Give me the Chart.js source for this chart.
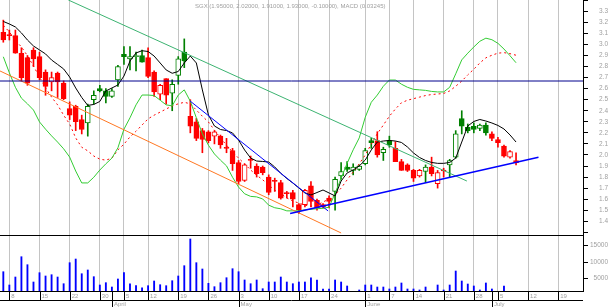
<!DOCTYPE html>
<html>
<head>
<meta charset="utf-8">
<script src="https://cdn.jsdelivr.net/npm/chart.js@4.4.1/dist/chart.umd.min.js"></script>
<style>
  html, body { margin: 0; padding: 0; background: #fff; }
</style>
</head>
<body>
<canvas id="chart" width="610" height="307"></canvas>
<script>
/* SGX daily candles, volume and MACD overlay (Mar - Jul) */
const symbol = 'SGX';

// one entry per trading session, index 0 = first session shown
const open = [3.11,3.09,3.08,2.92,2.88,2.95,2.89,2.75,2.66,2.74,
  2.65,2.42,2.44,2.32,2.29,2.50,2.60,2.58,2.53,2.68,
  2.91,2.87,2.89,2.90,2.88,2.75,2.55,2.69,2.56,2.72,
  2.93,2.35,2.30,2.22,2.21,2.17,2.17,2.07,2.04,1.93,
  1.77,1.96,1.90,1.89,1.80,1.77,1.75,1.66,1.66,1.55,
  1.55,1.72,1.59,1.55,1.61,1.67,1.81,1.89,1.86,1.87,
  1.92,2.13,2.13,2.02,2.13,2.06,1.94,1.91,1.86,1.81,
  1.85,1.89,1.74,1.86,1.91,1.98,2.33,2.25,2.26,2.24,
  2.27,2.19,2.14,2.08,1.98,1.95];
const high = [3.22,3.13,3.13,2.97,2.90,2.97,2.93,2.77,2.75,2.75,
  2.67,2.48,2.45,2.36,2.46,2.58,2.63,2.60,2.60,2.81,
  2.98,2.98,2.93,2.95,2.97,2.76,2.64,2.69,2.68,2.89,
  3.05,2.50,2.33,2.24,2.22,2.22,2.18,2.15,2.06,1.95,
  1.92,1.99,1.92,1.90,1.82,1.79,1.77,1.67,1.68,1.56,
  1.69,1.76,1.60,1.56,1.63,1.80,1.93,1.94,1.92,1.91,
  2.06,2.15,2.21,2.07,2.17,2.12,1.96,1.92,1.87,1.87,
  1.91,1.98,1.86,1.88,1.96,2.22,2.40,2.28,2.29,2.28,
  2.29,2.21,2.16,2.09,2.04,2.02];
const low = [3.02,3.04,2.92,2.67,2.63,2.80,2.68,2.54,2.58,2.52,
  2.50,2.32,2.22,2.19,2.17,2.46,2.57,2.47,2.52,2.62,
  2.82,2.77,2.76,2.84,2.70,2.53,2.50,2.46,2.40,2.64,
  2.79,2.20,2.13,2.02,2.11,2.10,2.06,2.02,1.86,1.74,
  1.76,1.88,1.80,1.82,1.64,1.67,1.60,1.61,1.53,1.47,
  1.53,1.53,1.50,1.52,1.52,1.50,1.78,1.85,1.82,1.86,
  1.91,2.06,1.98,1.95,2.07,1.94,1.86,1.85,1.76,1.80,
  1.75,1.81,1.70,1.80,1.80,1.97,2.19,2.20,2.20,2.22,
  2.18,2.13,2.07,1.98,1.97,1.91];
const close = [3.04,3.08,2.92,2.70,2.65,2.87,2.70,2.62,2.70,2.66,
  2.51,2.36,2.30,2.23,2.44,2.54,2.58,2.53,2.58,2.80,
  2.89,2.89,2.90,2.84,2.71,2.57,2.63,2.54,2.64,2.87,
  2.85,2.26,2.15,2.14,2.13,2.21,2.09,2.06,1.92,1.76,
  1.91,1.95,1.83,1.84,1.66,1.76,1.61,1.65,1.60,1.50,
  1.68,1.58,1.52,1.53,1.58,1.78,1.85,1.87,1.89,1.90,
  2.04,2.11,2.00,2.05,2.09,1.94,1.86,1.86,1.79,1.86,
  1.89,1.83,1.84,1.855,1.95,2.19,2.26,2.22,2.23,2.27,
  2.20,2.15,2.11,1.99,2.03,1.93];
// sessions drawn in green by the source
const risingDays = [14,15,16,17,18,19,20,21,22,23,28,29,30,
  55,56,57,58,59,60,61,63,64,70,74,75,76,77,78,79,80];

const volume = [7060,3030,5450,11600,9180,3940,6760,5760,6150,5450,
  3420,9790,10900,6450,7580,5550,3030,3730,2420,4850,
  6760,3420,2820,2210,2820,4240,3120,2820,4330,5760,
  8880,16970,9790,7880,3550,2520,3730,5240,7970,7060,
  4550,3420,4550,1910,3940,3940,5450,3940,3420,3940,
  3940,5240,4550,1820,1820,4550,3940,2730,900,1520,
  3030,3030,2420,2420,1820,2420,3640,1820,1820,1520,
  2420,900,3030,1520,3030,7270,4240,3330,2730,1520,
  3640,1820,900,2730,900,900];

const maLine = [3.208,3.185,3.158,3.104,3.040,2.986,2.950,2.914,2.859,2.819,
  2.778,2.705,2.606,2.520,2.448,2.457,2.484,2.579,2.606,2.633,
  2.714,2.850,2.923,2.943,2.936,2.895,2.832,2.769,2.739,2.755,
  2.832,2.895,2.832,2.588,2.362,2.262,2.230,2.221,2.199,2.135,
  2.045,1.972,1.945,1.941,1.936,1.891,1.834,1.787,1.746,1.701,
  1.656,1.638,1.660,1.683,1.656,1.629,1.764,1.837,1.864,1.900,
  1.954,2.045,2.117,2.126,2.131,2.126,2.113,2.072,2.018,1.977,
  1.950,1.932,1.924,1.924,1.932,1.972,2.117,2.262,2.303,2.321,
  2.307,2.289,2.267,2.235,2.181,2.117];

const macd = [0.044,0.013,-0.015,-0.036,-0.047,-0.059,-0.082,-0.096,-0.109,-0.121,
  -0.134,-0.150,-0.177,-0.200,-0.200,-0.189,-0.175,-0.163,-0.152,-0.132,
  -0.096,-0.074,-0.049,-0.030,-0.030,-0.031,-0.040,-0.049,-0.051,-0.030,
  -0.020,-0.042,-0.074,-0.105,-0.127,-0.144,-0.156,-0.167,-0.189,-0.208,
  -0.221,-0.226,-0.227,-0.231,-0.243,-0.248,-0.250,-0.254,-0.254,-0.254,
  -0.252,-0.251,-0.250,-0.249,-0.247,-0.220,-0.191,-0.162,-0.136,-0.113,
  -0.073,-0.044,-0.030,-0.013,-0.001,-0.001,-0.009,-0.015,-0.019,-0.020,
  -0.021,-0.023,-0.024,-0.024,-0.015,0.011,0.038,0.051,0.063,0.074,
  0.080,0.077,0.070,0.059,0.046,0.03245];
const signal = [0.105,0.092,0.076,0.063,0.046,0.026,0.005,-0.016,-0.034,-0.049,
  -0.069,-0.086,-0.113,-0.131,-0.138,-0.148,-0.154,-0.156,-0.152,-0.136,
  -0.125,-0.111,-0.100,-0.088,-0.076,-0.069,-0.063,-0.057,-0.051,-0.047,
  -0.044,-0.047,-0.059,-0.071,-0.082,-0.098,-0.113,-0.127,-0.140,-0.152,
  -0.163,-0.175,-0.185,-0.194,-0.204,-0.214,-0.221,-0.229,-0.235,-0.239,
  -0.243,-0.245,-0.243,-0.237,-0.231,-0.223,-0.210,-0.194,-0.179,-0.163,
  -0.146,-0.125,-0.105,-0.088,-0.071,-0.057,-0.045,-0.040,-0.037,-0.034,
  -0.031,-0.029,-0.028,-0.027,-0.022,-0.013,-0.003,0.009,0.020,0.032,
  0.042,0.047,0.051,0.052,0.050,0.047];

// drawn trend lines: [session index, price] end points
const channelTop = [[10.78, 3.402], [76.85, 1.764]];
const channelBottom = [[-0.55, 2.760], [56.0, 1.294]];
const shortTrend = [[30.96, 2.488], [53.85, 1.493]];
const supportTrend = [[47.55, 1.470], [88.72, 1.979]];
const resistance = 2.669;

// axes
const weekTicks = [1,6,11,16,20,24,29,34,39,44,49,54,60,64,68,73,78,82,87,92];
const weekLabels = ['8','15','22','30','5','12','19','26','3','10','17','24','1','7','14','21','28','5','12','19'];
const monthTicks = [18,39,60,81];
const monthLabels = ['April','May','June','July'];
const priceTicks = [1.3,1.4,1.5,1.6,1.7,1.8,1.9,2.0,2.1,2.2,2.3,2.4,2.5,2.6,2.7,2.8,2.9,3.0,3.1,3.2,3.3,3.4];
const volumeTicks = [5000,10000,15000];

const RED = '#ff0000', GREEN = '#008000', TEXT = '#a0a0a0';
const FONT = '"Liberation Sans", Arial, sans-serif';
const pricePanelFloor = 1.275;   // price level where the volume panel starts
const xMin = -0.55, xMax = 96.1;

Chart.defaults.font.family = FONT;

const idx = close.map((_, i) => i);
const colorOf = i => risingDays.includes(i) ? GREEN : RED;
const pts = arr => arr.map((v, i) => ({ x: i, y: v }));
const seg = s => s.map(([x, y]) => ({ x, y }));
const line = (data, color, extra = {}) => ({
    type: 'line', data, borderColor: color, borderWidth: 1,
    pointRadius: 0, fill: false, tension: 0, ...extra
});

const last = close.length - 1;
const title = `${symbol} (${[open, high, low, close].map(a => a[last].toFixed(5)).join(', ')}, ` +
    `${(close[last] - close[last - 1]).toFixed(5)}), MACD (${macd[last].toFixed(5)})`;

const panelFrame = {
    id: 'panelFrame',
    afterDraw(chart) {
        const { ctx, chartArea: a, scales: { x, y, vol } } = chart;
        const crisp = v => Math.round(v) + 0.5;
        const dateRow = a.bottom + 9;
        ctx.save();
        ctx.strokeStyle = '#000';
        ctx.lineWidth = 1;
        ctx.beginPath();
        [y.getPixelForValue(pricePanelFloor), a.bottom, dateRow].forEach(py => {
            ctx.moveTo(a.left, crisp(py)); ctx.lineTo(a.right, crisp(py));
        });
        weekTicks.forEach(t => {
            const px = crisp(x.getPixelForValue(t));
            ctx.moveTo(px, a.bottom); ctx.lineTo(px, dateRow);
        });
        monthTicks.forEach(t => {
            const px = crisp(x.getPixelForValue(t));
            ctx.moveTo(px, a.bottom); ctx.lineTo(px, chart.height);
        });
        volumeTicks.forEach(v => {
            const py = crisp(vol.getPixelForValue(v));
            ctx.moveTo(a.right, py); ctx.lineTo(a.right + 5, py);
        });
        ctx.stroke();

        ctx.fillStyle = TEXT;
        ctx.font = '6px ' + FONT;
        ctx.textAlign = 'left';
        ctx.textBaseline = 'alphabetic';
        weekTicks.forEach((t, i) => ctx.fillText(weekLabels[i], x.getPixelForValue(t) + 2, a.bottom + 7));
        monthTicks.forEach((t, i) => ctx.fillText(monthLabels[i], x.getPixelForValue(t) + 2, a.bottom + 15));
        ctx.fillText(title, 195, 7.5, 193);

        ctx.textAlign = 'right';
        ctx.textBaseline = 'middle';
        ctx.font = '6.5px ' + FONT;
        volumeTicks.forEach(v => ctx.fillText(String(v), chart.width - 2, vol.getPixelForValue(v)));
        ctx.restore();
    }
};

new Chart(document.getElementById('chart'), {
    type: 'bar',
    data: {
        datasets: [
            line(seg([[xMin, resistance], [xMax, resistance]]), '#00008c'),
            line(seg(supportTrend), '#0000ff', { borderWidth: 1.5 }),
            line(seg(shortTrend), '#0000ff'),
            line(seg(channelTop), '#3cb371'),
            line(seg(channelBottom), '#ff7722'),
            line(pts(maLine), '#000000'),
            line(pts(macd), '#33cc33', { yAxisID: 'macd' }),
            line(pts(signal), '#ff0000', { yAxisID: 'macd', borderDash: [2, 3] }),
            {
                type: 'bar',
                data: idx.map(i => ({ x: i, y: [Math.min(open[i], close[i]), Math.max(open[i], close[i])] })),
                backgroundColor: idx.map(i => close[i] > open[i] ? '#ffffff' : colorOf(i)),
                borderColor: idx.map(colorOf),
                borderWidth: 1, borderSkipped: false, barThickness: 5,
                minBarLength: 1, grouped: false
            },
            {
                type: 'bar',
                data: idx.map(i => ({ x: i, y: [low[i], high[i]] })),
                backgroundColor: idx.map(colorOf),
                barThickness: 1, grouped: false
            },
            {
                type: 'bar', yAxisID: 'vol',
                data: pts(volume),
                backgroundColor: '#0000ff',
                barThickness: 1.2, grouped: false
            }
        ]
    },
    options: {
        responsive: false,
        animation: false,
        devicePixelRatio: 1,
        layout: { padding: { left: 0, right: 2, top: 0, bottom: 16 } },
        plugins: { legend: { display: false }, tooltip: { enabled: false } },
        scales: {
            x: {
                type: 'linear', min: xMin, max: xMax, offset: false,
                afterBuildTicks: s => { s.ticks = weekTicks.map(v => ({ value: v })); },
                afterFit: s => { s.height = 0; s.paddingLeft = 0; s.paddingRight = 0; },
                grid: { color: '#c4c4c4', borderDash: [4, 4], drawTicks: false, offset: false },
                border: { display: false },
                ticks: { display: false, autoSkip: false }
            },
            y: {
                type: 'linear', position: 'right', min: 0.769, max: 3.402,
                afterBuildTicks: s => { s.ticks = priceTicks.map(v => ({ value: v })); },
                afterFit: s => { s.width = 25; s.paddingTop = 0; s.paddingBottom = 0; },
                grid: { drawOnChartArea: false, tickLength: 5, tickColor: '#000' },
                border: { color: '#000', width: 1 },
                ticks: {
                    autoSkip: false, color: TEXT, font: { size: 6.5 }, padding: 2, crossAlign: 'far',
                    callback: v => (v > 1.35 && v < 3.35) ? v.toFixed(1) : ''
                }
            },
            vol: { type: 'linear', display: false, min: 1212, max: 89394 },
            macd: { type: 'linear', display: false, min: -0.409, max: 0.1538 }
        }
    },
    plugins: [panelFrame]
});
</script>
</body>
</html>
